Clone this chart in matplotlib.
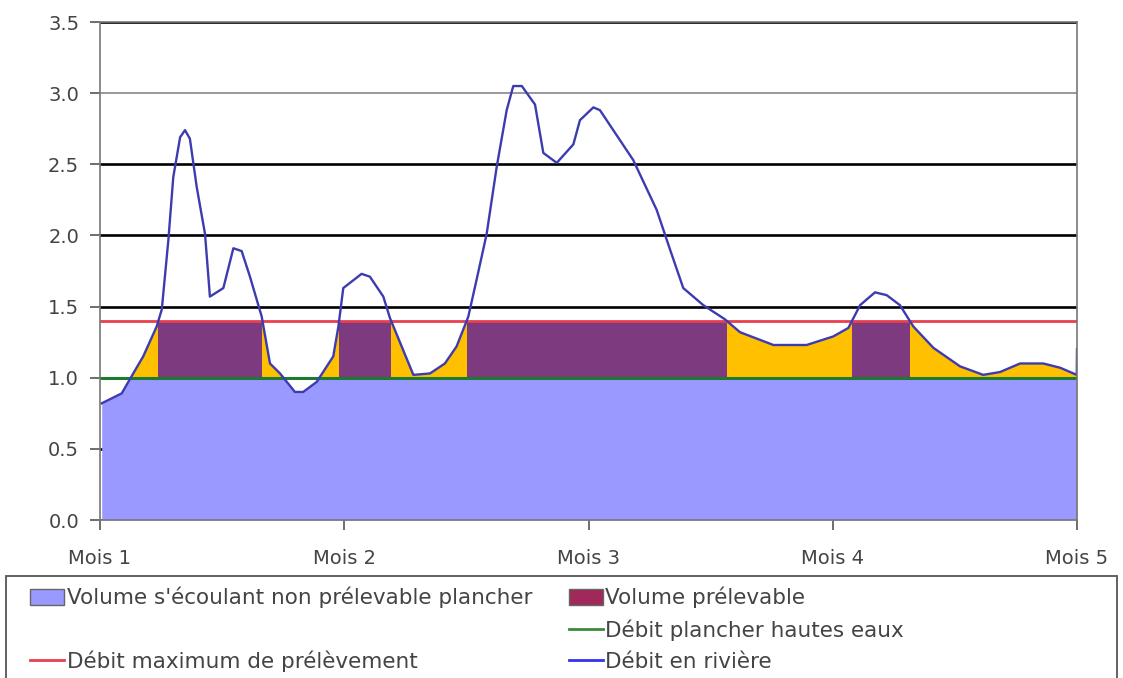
import numpy as np
import matplotlib.pyplot as plt
from matplotlib.patches import Patch, Rectangle
from matplotlib.lines import Line2D

# Données (x en mois depuis Mois 1)
mois = [0.007, 0.089, 0.136, 0.177, 0.232, 0.253, 0.280, 0.300, 0.328, 0.348,
        0.368, 0.396, 0.430, 0.450, 0.505, 0.546, 0.580, 0.614, 0.662, 0.696,
        0.737, 0.798, 0.832, 0.887, 0.955, 0.976, 0.996, 1.071, 1.105, 1.160,
        1.187, 1.283, 1.351, 1.412, 1.460, 1.508, 1.542, 1.583, 1.624, 1.665,
        1.692, 1.727, 1.781, 1.815, 1.870, 1.938, 1.965, 2.020, 2.047, 2.183,
        2.279, 2.334, 2.388, 2.470, 2.559, 2.620, 2.757, 2.893, 3.002, 3.064,
        3.112, 3.173, 3.221, 3.275, 3.330, 3.412, 3.521, 3.616, 3.685, 3.767,
        3.862, 3.931, 3.999, 4.000]
debit = [0.82, 0.89, 1.03, 1.15, 1.36, 1.48, 1.97, 2.41, 2.69, 2.74,
         2.68, 2.34, 2.01, 1.57, 1.63, 1.91, 1.89, 1.71, 1.43, 1.10,
         1.03, 0.90, 0.90, 0.97, 1.15, 1.36, 1.63, 1.73, 1.71, 1.57,
         1.42, 1.02, 1.03, 1.10, 1.22, 1.43, 1.69, 2.01, 2.48, 2.88,
         3.05, 3.05, 2.92, 2.58, 2.51, 2.64, 2.81, 2.90, 2.88, 2.53,
         2.18, 1.90, 1.63, 1.51, 1.41, 1.32, 1.23, 1.23, 1.29, 1.35,
         1.51, 1.60, 1.58, 1.51, 1.36, 1.21, 1.08, 1.02, 1.04, 1.10,
         1.10, 1.07, 1.02, 1.20]
plancher = 1.0
maximum = 1.4
etiquettes_x = ["Mois 1", "Mois 2", "Mois 3", "Mois 4", "Mois 5"]


def ajoute_croisements(x, y, niveaux):
    # insere les points ou la courbe coupe les niveaux (pour des bords nets)
    xs, ys = [x[0]], [y[0]]
    for i in range(1, len(x)):
        x0, y0, x1, y1 = x[i - 1], y[i - 1], x[i], y[i]
        coupes = []
        for n in niveaux:
            if (y0 - n) * (y1 - n) < 0:
                t = (n - y0) / (y1 - y0)
                coupes.append((x0 + t * (x1 - x0), n))
        for c in sorted(coupes):
            xs.append(c[0])
            ys.append(c[1])
        xs.append(x1)
        ys.append(y1)
    return np.array(xs), np.array(ys)


plt.rcParams['font.family'] = ['DejaVu Sans']

W, H = 1123, 678
fig = plt.figure(figsize=(W / 100, H / 100), dpi=100)
ax = fig.add_axes([100 / W, 1 - 520 / H, 977 / W, 498 / H])

xx, yy = ajoute_croisements(mois, debit, [plancher, maximum])

ax.fill_between(xx, 0, np.minimum(yy, plancher), color='#9999ff', lw=0)
ax.fill_between(xx, plancher, np.clip(yy, plancher, maximum), color='#ffc000', lw=0)
ax.fill_between(xx, plancher, maximum, where=yy >= maximum - 1e-9,
                color='#7d3a7f', lw=0)
ax.axhline(maximum, color='#e8404f', lw=2)
ax.axhline(plancher, color='#1e7a2e', lw=2.2)
ax.plot(mois, debit, color='#3c3cb0', lw=1.7)

ax.set_xlim(0, 4)
ax.set_ylim(0, 3.5)
ax.set_xticks(range(5))
ax.set_xticklabels(etiquettes_x)
ax.set_yticks(np.arange(0, 3.51, 0.5))
ax.set_yticklabels([f"{v:.1f}" for v in np.arange(0, 3.51, 0.5)])

ax.set_axisbelow(True)
ax.yaxis.grid(True, color='black', lw=1.9)
ax.get_ygridlines()[6].set_color('#888888')
ax.get_ygridlines()[6].set_linewidth(1.2)
for s in ax.spines.values():
    s.set_color('#777777')
    s.set_linewidth(1.2)
ax.tick_params(axis='both', length=7, width=1.2, color='#555555',
               labelsize=14, labelcolor='#444444')
ax.tick_params(axis='y', pad=8)
ax.tick_params(axis='x', pad=14)

poignees = [Patch(facecolor='#9999ff', edgecolor='#666666'),
            Line2D([], [], color='none'),
            Line2D([], [], color='#e8404f', lw=2),
            Patch(facecolor='#a0285a', edgecolor='#666666'),
            Line2D([], [], color='#3a8a3a', lw=2),
            Line2D([], [], color='#3333ee', lw=2)]
noms = ["Volume s'écoulant non prélevable plancher", "",
        "Débit maximum de prélèvement", "Volume prélevable",
        "Débit plancher hautes eaux", "Débit en rivière"]
leg = fig.legend(poignees, noms, ncol=2, loc='upper left',
                 bbox_to_anchor=(30 / W, 1 - 587 / H),
                 fontsize=15.5, frameon=False,
                 handlelength=1.6, handleheight=0.7, handletextpad=0.1,
                 labelspacing=0.5, columnspacing=1.7, borderpad=0,
                 borderaxespad=0)
for t in leg.get_texts():
    t.set_color('#444444')

# cadre de la légende (coupé par le bas de l'image)
fig.patches.append(Rectangle((6 / W, -0.05), 1 - 12 / W, 0.05 + 1 - 576 / H,
                             transform=fig.transFigure, fill=False,
                             edgecolor='#555555', lw=1.3))

fig.savefig('out.png', dpi=100)
